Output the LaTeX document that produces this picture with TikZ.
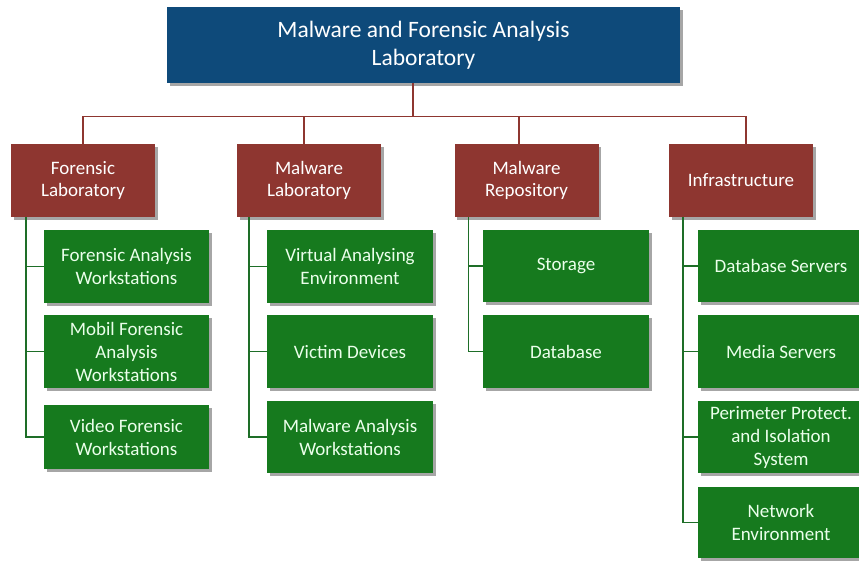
\documentclass[tikz,border=0pt]{standalone}
\usepackage{fontspec}
\setmainfont{Carlito}
\usetikzlibrary{shadows}
\definecolor{topblue}{RGB}{14,74,122}
\definecolor{lvlred}{RGB}{142,54,48}
\definecolor{leafgreen}{RGB}{22,122,30}
\definecolor{glinec}{RGB}{30,110,40}
\begin{document}
\begin{tikzpicture}[x=1pt,y=-1pt,
  boxbase/.style={rectangle, inner sep=0pt, align=center, text=white,
    drop shadow={shadow xshift=2.5pt, shadow yshift=-3pt, opacity=0.35, fill=black}},
  rootbox/.style={boxbase, fill=topblue, minimum width=513pt, minimum height=76pt,
    font=\fontsize{23.5}{28}\selectfont},
  lvlbox/.style={boxbase, fill=lvlred, minimum width=144pt, minimum height=73pt,
    font=\fontsize{19}{22}\selectfont},
  leafbox/.style={boxbase, fill=leafgreen, minimum width=166pt, minimum height=73pt,
    font=\fontsize{19}{23}\selectfont, text=white!92!green},
  redline/.style={draw=lvlred, line width=1.5pt},
  greenline/.style={draw=glinec, line width=1.6pt}
]
\useasboundingbox (0,0) rectangle (859,560);

% root
\node[rootbox] (root) at (423.5,45) {Malware and Forensic Analysis\\Laboratory};

% level 1
\node[lvlbox] (fl) at (83,180.5) {Forensic\\Laboratory};
\node[lvlbox] (ml) at (309,180.5) {Malware\\Laboratory};
\node[lvlbox] (mr) at (526.5,180.5) {Malware\\Repository};
\node[lvlbox] (inf) at (741,180.5) {Infrastructure};

% leaves col 1
\node[leafbox, minimum width=165pt] (f1) at (126.5,266.5) {Forensic Analysis\\Workstations};
\node[leafbox, minimum width=165pt] (f2) at (126.5,351.5) {Mobil Forensic\\Analysis\\Workstations};
\node[leafbox, minimum width=165pt, minimum height=64pt] (f3) at (126.5,437) {Video Forensic\\Workstations};
% col 2
\node[leafbox] (m1) at (350,266.5) {Virtual Analysing\\Environment};
\node[leafbox] (m2) at (350,351.5) {Victim Devices};
\node[leafbox, minimum height=72pt] (m3) at (350,437) {Malware Analysis\\Workstations};
% col 3
\node[leafbox, minimum height=72pt] (r1) at (566,266) {Storage};
\node[leafbox] (r2) at (566,351.5) {Database};
% col 4
\node[leafbox, minimum height=72pt] (i1) at (781,266) {Database Servers};
\node[leafbox] (i2) at (781,351.5) {Media Servers};
\node[leafbox, minimum height=72pt] (i3) at (781,437) {Perimeter Protect.\\and Isolation\\System};
\node[leafbox, minimum height=71pt] (i4) at (781,522.5) {Network\\Environment};

% red connectors
\coordinate (bus) at (413,116.5);
\draw[redline] ([xshift=-10.5pt]root.south) -- (bus);
\draw[redline] (fl.north) |- (bus);
\draw[redline] ([xshift=-5pt]ml.north) |- (bus);
\draw[redline] ([xshift=-7.5pt]mr.north) |- (bus);
\draw[redline] ([xshift=5pt]inf.north) |- (bus);

% green connectors
\draw[greenline] ([xshift=15pt]fl.south west) |- (f3.west);
\draw[greenline] ([xshift=15pt]fl.south west) |- (f1.west);
\draw[greenline] ([xshift=15pt]fl.south west) |- (f2.west);

\draw[greenline] ([xshift=12pt]ml.south west) |- (m3.west);
\draw[greenline] ([xshift=12pt]ml.south west) |- (m1.west);
\draw[greenline] ([xshift=12pt]ml.south west) |- (m2.west);

\draw[greenline] ([xshift=14pt]mr.south west) |- (r2.west);
\draw[greenline] ([xshift=14pt]mr.south west) |- (r1.west);

\draw[greenline] ([xshift=14pt]inf.south west) |- (i4.west);
\draw[greenline] ([xshift=14pt]inf.south west) |- (i1.west);
\draw[greenline] ([xshift=14pt]inf.south west) |- (i2.west);
\draw[greenline] ([xshift=14pt]inf.south west) |- (i3.west);
\end{tikzpicture}
\end{document}
